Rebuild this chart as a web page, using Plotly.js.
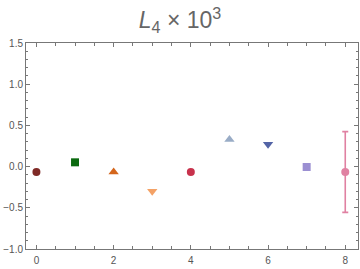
<!DOCTYPE html>
<html>
<head>
<meta charset="utf-8">
<script src="https://cdn.plot.ly/plotly-3.0.1.min.js"></script>
<style>html,body{margin:0;padding:0;background:#fff;}#chart{width:360px;height:269px;}</style>
</head>
<body>
<div id="chart"></div>
<script>
const xVals = [0, 1, 2, 3, 4, 5, 6, 7, 8];
const yVals = [-0.065, 0.052, -0.065, -0.30, -0.065, 0.33, 0.27, -0.005, -0.065];
const yErrors = [0, 0, 0, 0, 0, 0, 0, 0, 0.49];
const symbols = ['circle', 'square', 'triangle-up', 'triangle-down', 'circle', 'triangle-up', 'triangle-down', 'square', 'circle'];
const colors = ['#7f2a26', '#0b6a10', '#d4661c', '#f4a266', '#c8324c', '#99acc6', '#5364a6', '#9b8fd2', '#e081a2'];
const xTicks = [0, 2, 4, 6, 8];
const yTicks = [-1.0, -0.5, 0.0, 0.5, 1.0, 1.5];

const traces = xVals.map((x, i) => {
  const t = {
    x: [x], y: [yVals[i]], type: 'scatter', mode: 'markers',
    marker: {symbol: symbols[i], color: colors[i], size: symbols[i].startsWith('triangle') ? 9 : 8},
    showlegend: false, hoverinfo: 'none'
  };
  if (yErrors[i] > 0) {
    t.error_y = {type: 'data', array: [yErrors[i]], visible: true, color: colors[i], thickness: 1.6, width: 3};
  }
  return t;
});

const axisCommon = {
  showgrid: false, zeroline: false, showline: true, linecolor: '#777', linewidth: 1,
  mirror: 'ticks', ticks: 'inside', ticklen: 4, tickcolor: '#777', tickwidth: 1,
  tickfont: {family: 'Liberation Sans, Arial, sans-serif', size: 10, color: '#555'}
};

const layout = {
  width: 360, height: 269,
  margin: {l: 26, r: 2, t: 43, b: 20},
  paper_bgcolor: '#fff', plot_bgcolor: '#fff',
  title: {text: '<i>L</i><sub>4</sub> × 10<sup>3</sup>', x: 0.5, xanchor: 'center', y: 0.925, yanchor: 'middle',
    font: {family: 'Liberation Sans, Arial, sans-serif', size: 23, color: '#666'}},
  xaxis: Object.assign({}, axisCommon, {
    range: [-0.27, 8.33], tickvals: xTicks, ticktext: xTicks.map(String), ticklabelstandoff: 2,
    minor: {tickvals: [0.5,1,1.5,2.5,3,3.5,4.5,5,5.5,6.5,7,7.5,8.5], ticks: 'inside', ticklen: 3, tickcolor: '#777'}
  }),
  yaxis: Object.assign({}, axisCommon, {
    range: [-1.0, 1.5], tickvals: yTicks, ticktext: yTicks.map(v => v.toFixed(1).replace('-', '\u2212')),
    minor: {dtick: 0.1, ticks: 'inside', ticklen: 2, tickcolor: '#777'}
  })
};

Plotly.newPlot('chart', traces, layout, {displayModeBar: false, staticPlot: true});
</script>
</body>
</html>
